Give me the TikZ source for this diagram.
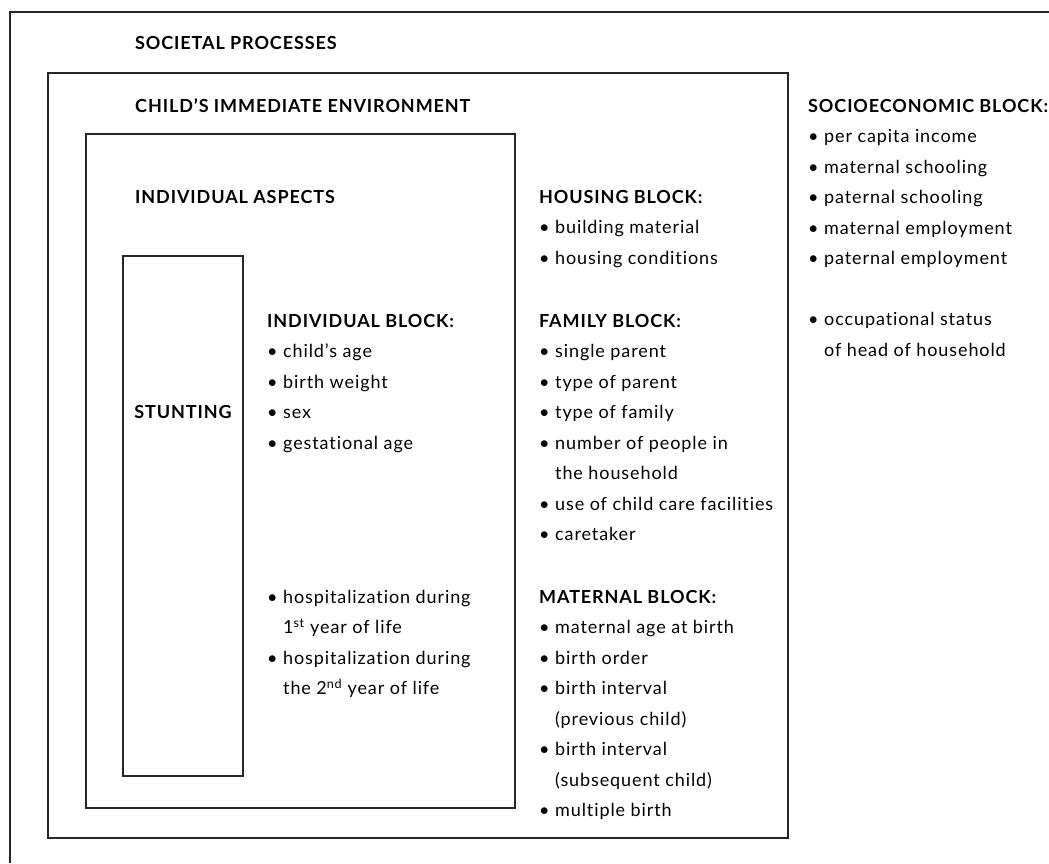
\documentclass[tikz,border=0pt]{standalone}
\usepackage{fontspec}
\setmainfont{Lato}[LetterSpace=5,Ligatures=NoCommon]
% one entry of a list, and the second line of a long entry
\newcommand{\itm}[1]{\textbullet\ #1}
\newcommand{\cont}[1]{\hphantom{\textbullet\ }#1}
\newcommand{\hd}[1]{{\fontsize{18}{30.5}\selectfont\bfseries #1}}
% fixed height of a block's first line, so its top sits 15pt over the baseline
\newcommand{\firstline}{\rule{0pt}{15pt}}
\begin{document}
\begin{tikzpicture}
  [x=1pt,y=-1pt,
   frame/.style={draw=black!85,line width=1.3pt},
   heading/.style={anchor=base west,inner sep=0pt,
     font=\fontsize{18}{30.5}\selectfont\bfseries},
   block/.style={anchor=north west,inner sep=0pt,align=left,
     font=\fontsize{18}{30.5}\selectfont}]
  \useasboundingbox (0,0) rectangle (1049,863);

  % nested frames
  \draw[frame] (1049,12) -- (10,12) -- (10,863);
  \draw[frame] (48,73) rectangle (788,838);
  \draw[frame] (86,134) rectangle (515,808);
  \draw[frame] (123,256) rectangle (243,776);

  % frame titles
  \node[heading] (societal) at (135,49) {SOCIETAL PROCESSES};
  \node[heading] (environment) at (135,112) {CHILD’S IMMEDIATE ENVIRONMENT};
  \node[heading] (aspects) at (135,203) {INDIVIDUAL ASPECTS};
  \node[heading,anchor=base] (stunting) at (183,418) {STUNTING};

  % individual aspects (block tops are 15pt over the first baseline)
  \node[block] (individual) at (267,312)
    {\firstline\hd{INDIVIDUAL BLOCK:}\\
     \itm{child’s age}\\
     \itm{birth weight}\\
     \itm{sex}\\
     \itm{gestational age}};
  \node[block] (hospital) at (267,588)
    {\firstline\itm{hospitalization during}\\
     \cont{1\textsuperscript{st} year of life}\\
     \itm{hospitalization during}\\
     \cont{the 2\textsuperscript{nd} year of life}};

  % immediate environment
  \node[block] (housing) at (539,188)
    {\firstline\hd{HOUSING BLOCK:}\\
     \itm{building material}\\
     \itm{housing conditions}};
  \node[block] (family) at (539,312)
    {\firstline\hd{FAMILY BLOCK:}\\
     \itm{single parent}\\
     \itm{type of parent}\\
     \itm{type of family}\\
     \itm{number of people in}\\
     \cont{the household}\\
     \itm{use of child care facilities}\\
     \itm{caretaker}};
  \node[block] (maternal) at (539,588)
    {\firstline\hd{MATERNAL BLOCK:}\\
     \itm{maternal age at birth}\\
     \itm{birth order}\\
     \itm{birth interval}\\
     \cont{(previous child)}\\
     \itm{birth interval}\\
     \cont{(subsequent child)}\\
     \itm{multiple birth}};

  % societal processes
  \node[block] (socio) at (808,97)
    {\firstline\hd{SOCIOECONOMIC BLOCK:}\\
     \itm{per capita income}\\
     \itm{maternal schooling}\\
     \itm{paternal schooling}\\
     \itm{maternal employment}\\
     \itm{paternal employment}\\[30.5pt]
     \itm{occupational status}\\
     \cont{of head of household}};
\end{tikzpicture}
\end{document}
